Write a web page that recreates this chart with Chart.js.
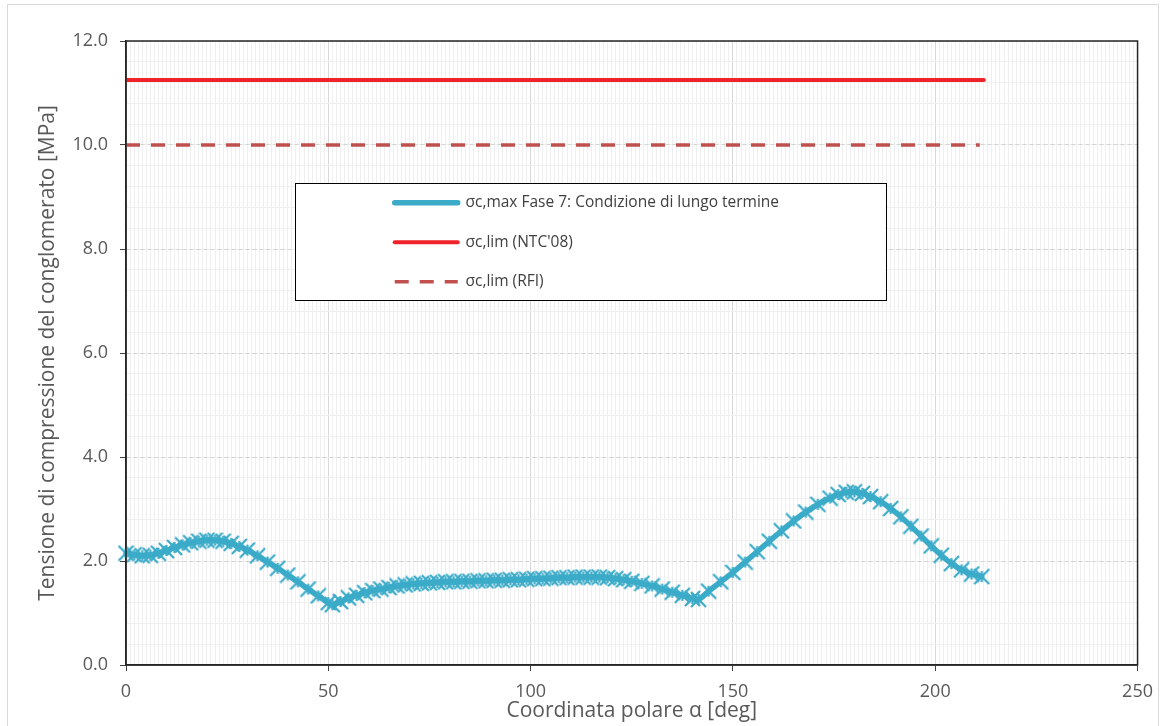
<html lang="it">
<head>
    <meta charset="UTF-8">
    <style>
        body { margin: 0; background: #fff; }
        #wrap { position: relative; width: 1163px; height: 726px; }
        #frame { position: absolute; left: 7px; top: 4px; width: 1150px; height: 740px; border: 1px solid #d9d9d9; pointer-events: none; }
    </style>
    <script src="https://cdn.jsdelivr.net/npm/chart.js"></script>
</head>
<body>
<div id="wrap">
    <canvas id="chart"></canvas>
    <div id="frame"></div>
</div>
<script>
    // coordinata polare alpha [deg]
    const alpha = [0, 2, 4, 6, 8, 10, 12, 14, 16, 18, 20, 22, 24, 26, 28, 30, 32.5, 35, 37.5, 40, 42.5, 45, 47.5, 50, 51,
        53, 55, 57, 59, 61, 63, 65, 67, 69, 71, 73, 75, 77, 79, 81, 83, 85, 87, 89, 91, 93, 95, 97, 99, 101, 103, 105,
        107, 109, 111, 113, 115, 117, 119, 121, 123, 125, 127.5, 130, 132.5, 135, 137.5, 140, 141.5, 144, 147, 150,
        153, 156, 159, 162, 165, 168, 171, 174, 176, 178, 180, 182, 184, 186.5, 189, 191.5, 194, 196.5, 199, 201.5,
        204, 206.5, 209, 211.5];
    // sigma c,max Fase 7 [MPa]
    const sigmaMax = [2.15, 2.12, 2.10, 2.11, 2.15, 2.20, 2.26, 2.31, 2.35, 2.38, 2.40, 2.40, 2.38, 2.34, 2.28, 2.21,
        2.10, 1.98, 1.86, 1.73, 1.60, 1.46, 1.33, 1.20, 1.16, 1.22, 1.29, 1.34, 1.39, 1.43, 1.46, 1.49, 1.52, 1.54,
        1.56, 1.57, 1.58, 1.59, 1.60, 1.60, 1.61, 1.61, 1.62, 1.62, 1.63, 1.63, 1.64, 1.64, 1.65, 1.66, 1.66, 1.67,
        1.68, 1.68, 1.69, 1.69, 1.69, 1.69, 1.68, 1.66, 1.64, 1.61, 1.57, 1.52, 1.46, 1.40, 1.34, 1.28, 1.26, 1.42,
        1.60, 1.78, 1.98, 2.18, 2.38, 2.58, 2.77, 2.94, 3.09, 3.21, 3.28, 3.32, 3.33, 3.30, 3.24, 3.14, 3.01, 2.85,
        2.67, 2.48, 2.29, 2.11, 1.95, 1.83, 1.75, 1.70];
    const ntcAlpha = [0, 212];
    const ntcLim = [11.25, 11.25];
    const rfiAlpha = [0, 211];
    const rfiLim = [10.0, 10.0];

    const labels = ["σc,max Fase 7: Condizione di lungo termine", "σc,lim (NTC'08)", "σc,lim (RFI)"];

    const xMin = 0, xMax = 250, xMajor = 50;
    const yMin = 0, yMax = 12, yMajor = 2, yMinor = 0.4;

    // where the legend box sits, in axis units
    const legendBox = { x0: 41.7, x1: 187.7, yTop: 9.27, yBottom: 7.02 };

    const FONT = "'Open Sans', sans-serif";
    const BLUE = '#3BABC8';

    function toPoints(xs, ys) {
        return xs.map((x, i) => ({ x: x, y: ys[i] }));
    }

    // Excel style "*" marker
    function asteriskMarker(size, color) {
        const c = document.createElement('canvas');
        c.width = size; c.height = size;
        const g = c.getContext('2d');
        g.strokeStyle = color;
        g.lineWidth = 2.2;
        g.beginPath();
        g.moveTo(1, 1); g.lineTo(size - 1, size - 1);
        g.moveTo(size - 1, 1); g.lineTo(1, size - 1);
        g.moveTo(size / 2, 3); g.lineTo(size / 2, size - 3);
        g.stroke();
        return c;
    }

    const legendPlacer = {
        id: 'legendPlacer',
        afterLayout(chart) {
            const lg = chart.legend;
            const sx = chart.scales.x, sy = chart.scales.y;
            const left = sx.getPixelForValue(legendBox.x0);
            const top = sy.getPixelForValue(legendBox.yTop);
            lg.left = left + 76;
            lg.top = top - 12;
            lg.right = lg.left + 540;
            lg.bottom = lg.top + 200;
        },
        afterDraw(chart) {
            const ctx = chart.ctx;
            const sx = chart.scales.x, sy = chart.scales.y;
            const l = sx.getPixelForValue(legendBox.x0), r = sx.getPixelForValue(legendBox.x1);
            const t = sy.getPixelForValue(legendBox.yTop), b = sy.getPixelForValue(legendBox.yBottom);
            const a = chart.chartArea;
            ctx.save();
            // plot frame
            ctx.strokeStyle = '#262626';
            ctx.lineWidth = 1.5;
            ctx.strokeRect(a.left, a.top, a.right - a.left, a.bottom - a.top);
            // legend box
            ctx.fillStyle = '#ffffff';
            ctx.fillRect(l, t, r - l, b - t);
            ctx.strokeStyle = '#000000';
            ctx.lineWidth = 1;
            ctx.strokeRect(Math.round(l) + 0.5, Math.round(t) + 0.5, Math.round(r - l), Math.round(b - t));
            ctx.restore();
            chart.legend.draw();
        }
    };

    new Chart(document.getElementById('chart'), {
        type: 'line',
        data: {
            datasets: [
                {
                    label: labels[0],
                    data: toPoints(alpha, sigmaMax),
                    borderColor: BLUE,
                    backgroundColor: BLUE,
                    borderWidth: 5.5,
                    borderCapStyle: 'round',
                    tension: 0.35,
                    pointStyle: asteriskMarker(17, BLUE),
                    pointRadius: 8,
                    clip: false
                },
                {
                    label: labels[1],
                    data: toPoints(ntcAlpha, ntcLim),
                    borderColor: '#F0222A',
                    backgroundColor: '#F0222A',
                    borderWidth: 4,
                    borderCapStyle: 'round',
                    pointRadius: 0
                },
                {
                    label: labels[2],
                    data: toPoints(rfiAlpha, rfiLim),
                    borderColor: '#C0504D',
                    backgroundColor: '#C0504D',
                    borderWidth: 3.5,
                    borderDash: [14, 11],
                    pointRadius: 0
                }
            ]
        },
        options: {
            responsive: true,
            maintainAspectRatio: false,
            animation: false,
            events: [],
            layout: { padding: { left: 0, top: 41, right: 25, bottom: 0 } },
            plugins: {
                legend: {
                    position: 'chartArea',
                    align: 'start',
                    labels: {
                        usePointStyle: true,
                        pointStyleWidth: 63,
                        padding: 24,
                        color: '#404040',
                        font: { family: FONT, size: 15.5 },
                        generateLabels: (chart) => chart.data.datasets.map((ds, i) => ({
                            text: ds.label,
                            fillStyle: ds.borderColor,
                            strokeStyle: ds.borderColor,
                            lineWidth: ds.borderWidth,
                            lineDash: ds.borderDash || [],
                            lineCap: ds.borderDash ? 'butt' : 'round',
                            pointStyle: 'line',
                            fontColor: '#404040',
                            hidden: false,
                            datasetIndex: i
                        }))
                    }
                },
                tooltip: { enabled: false }
            },
            scales: {
                x: {
                    type: 'linear',
                    min: xMin,
                    max: xMax,
                    afterFit: (s) => { s.height = 61; },
                    ticks: {
                        stepSize: 1,
                        autoSkip: false,
                        maxRotation: 0,
                        padding: 10,
                        color: '#595959',
                        font: { family: FONT, size: 18 },
                        callback: (v) => (v % xMajor === 0 ? String(v) : '')
                    },
                    grid: {
                        color: (c) => (c.tick && c.tick.value % xMajor === 0 ? '#d9d9d9' : '#efefef'),
                        tickColor: (c) => (c.tick && c.tick.value % xMajor === 0 ? '#404040' : 'rgba(0,0,0,0)'),
                        tickLength: 6
                    },
                    border: { display: true, color: '#262626', width: 1.5 },
                    title: {
                        display: true,
                        text: 'Coordinata polare α [deg]',
                        color: '#595959',
                        font: { family: FONT, size: 21 },
                        padding: { top: 0, bottom: 2 }
                    }
                },
                y: {
                    type: 'linear',
                    position: 'left',
                    min: yMin,
                    max: yMax,
                    afterFit: (s) => { s.width = 0; },
                    ticks: { display: false, stepSize: yMinor },
                    grid: { color: '#efefef', drawTicks: false },
                    border: { display: false }
                },
                y2: {
                    type: 'linear',
                    position: 'left',
                    min: yMin,
                    max: yMax,
                    afterFit: (s) => { s.width = 126; },
                    ticks: {
                        stepSize: yMajor,
                        padding: 12,
                        color: '#595959',
                        font: { family: FONT, size: 18 },
                        callback: (v) => v.toFixed(1)
                    },
                    grid: { color: '#d4d4d4', tickColor: '#404040', tickLength: 6 },
                    border: { display: true, color: '#262626', width: 1.5, dash: [4, 3] },
                    title: {
                        display: true,
                        text: 'Tensione di compressione del conglomerato [MPa]',
                        color: '#595959',
                        font: { family: FONT, size: 21 },
                        padding: { top: 35, bottom: 0 }
                    }
                }
            }
        },
        plugins: [legendPlacer]
    });
</script>
</body>
</html>
